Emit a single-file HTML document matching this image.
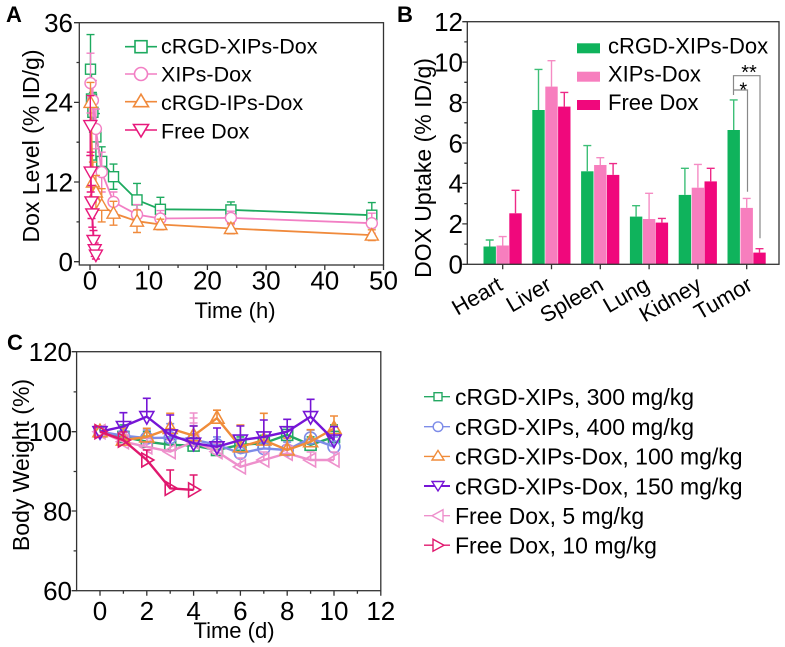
<!DOCTYPE html>
<html>
<head>
<meta charset="utf-8">
<style>
html,body{margin:0;padding:0;background:#fff;}
svg{display:block;}
text{font-family:"Liberation Sans",Arial,sans-serif;fill:#000;}
</style>
</head>
<body>
<svg width="785" height="647" viewBox="0 0 785 647" xmlns="http://www.w3.org/2000/svg">
<rect width="785" height="647" fill="#fff"/>

<!-- ================= PANEL A ================= -->
<text x="6" y="22" font-size="22" font-weight="bold">A</text>
<rect x="79.3" y="22.7" width="304.2" height="242.3" fill="none" stroke="#333" stroke-width="1.3"/>
<path d="M79.3 261.7H74M79.3 182H74M79.3 102.4H74M79.3 22.7H74M79.3 221.9H76.5M79.3 142.2H76.5M79.3 62.5H76.5" stroke="#333" stroke-width="1.3"/>
<path d="M90 265V270M148.7 265V270M207.4 265V270M266.1 265V270M324.8 265V270M383.5 265V270M119.35 265V268M178.05 265V268M236.75 265V268M295.45 265V268M354.15 265V268" stroke="#333" stroke-width="1.3"/>
<g font-size="26" text-anchor="end">
<text x="73" y="271">0</text>
<text x="73" y="191.3">12</text>
<text x="73" y="111.7">24</text>
<text x="73" y="32">36</text>
</g>
<g font-size="26" text-anchor="middle">
<text x="90" y="289.5">0</text>
<text x="148.7" y="289.5">10</text>
<text x="207.4" y="289.5">20</text>
<text x="266.1" y="289.5">30</text>
<text x="324.8" y="289.5">40</text>
<text x="383.5" y="289.5">50</text>
</g>
<text x="235" y="318" font-size="22" text-anchor="middle">Time (h)</text>
<text transform="translate(39,146) rotate(-90)" font-size="23" text-anchor="middle">Dox Level (% ID/g)</text>

<!-- green series A -->
<g stroke="#1daa5f" stroke-width="1.4" fill="none">
<path d="M90.5 34.6V103.7M86.5 34.6h8M86.5 103.7h8M91.5 72.5V125.6M87.5 72.5h8M87.5 125.6h8M92.9 92.4V132.2M88.9 92.4h8M88.9 132.2h8M95.9 113.6V160.1M91.9 113.6h8M91.9 160.1h8M101.7 146.8V176.1M97.7 146.8h8M97.7 176.1h8M113.5 164.1V189.3M109.5 164.1h8M109.5 189.3h8M137 183.4V216.6M133 183.4h8M133 216.6h8M160.4 197.3V221.2M156.4 197.3h8M156.4 221.2h8M230.9 201.9V217.9M226.9 201.9h8M226.9 217.9h8M371.8 202.6V227.8M367.8 202.6h8M367.8 227.8h8"/>
<polyline stroke-width="1.8" points="90.5,69.2 91.5,99 92.9,112.3 95.9,136.9 101.7,161.4 113.5,176.7 137,199.9 160.4,209.3 230.9,209.9 371.8,215.2"/>
<g fill="#fff">
<rect x="85.5" y="64.2" width="10" height="10"/><rect x="86.5" y="94" width="10" height="10"/><rect x="87.9" y="107.3" width="10" height="10"/><rect x="90.9" y="131.9" width="10" height="10"/><rect x="96.7" y="156.4" width="10" height="10"/><rect x="108.5" y="171.7" width="10" height="10"/><rect x="132" y="194.9" width="10" height="10"/><rect x="155.4" y="204.3" width="10" height="10"/><rect x="225.9" y="204.9" width="10" height="10"/><rect x="366.8" y="210.2" width="10" height="10"/>
</g>
</g>

<!-- pink series A -->
<g stroke="#f27fc4" stroke-width="1.4" fill="none">
<path d="M90.5 53.2V113M86.5 53.2h8M86.5 113h8M92.9 80.5V120.3M88.9 80.5h8M88.9 120.3h8M95.9 109V148.8M91.9 109h8M91.9 148.8h8M101.7 152.2V192M97.7 152.2h8M97.7 192h8M113.5 192V211.9M109.5 192h8M109.5 211.9h8M137 204.6V224.5M133 204.6h8M133 224.5h8M160.4 210.6V226.5M156.4 210.6h8M156.4 226.5h8M230.9 211.2V224.5M226.9 211.2h8M226.9 224.5h8M371.8 213.2V233.2M367.8 213.2h8M367.8 233.2h8"/>
<polyline stroke-width="1.8" points="90.5,83.1 92.9,100.4 95.9,128.9 101.7,172.1 113.5,201.9 137,214.6 160.4,218.5 230.9,217.9 371.8,223.2"/>
<g fill="#fff">
<circle cx="90.5" cy="83.1" r="5.5"/><circle cx="92.9" cy="100.4" r="5.5"/><circle cx="95.9" cy="128.9" r="5.5"/><circle cx="101.7" cy="172.1" r="5.5"/><circle cx="113.5" cy="201.9" r="5.5"/><circle cx="137" cy="214.6" r="5.5"/><circle cx="160.4" cy="218.5" r="5.5"/><circle cx="230.9" cy="217.9" r="5.5"/><circle cx="371.8" cy="223.2" r="5.5"/>
</g>
</g>

<!-- orange series A -->
<g stroke="#f08a3c" stroke-width="1.4" fill="none">
<path d="M90.5 82.4V122.3M86.5 82.4h8M86.5 122.3h8M92.9 162.1V201.9M88.9 162.1h8M88.9 201.9h8M95.9 175.4V208.6M91.9 175.4h8M91.9 208.6h8M101.7 188.7V221.9M97.7 188.7h8M97.7 221.9h8M113.5 201.3V225.2M109.5 201.3h8M109.5 225.2h8M137 209.9V232.5M133 209.9h8M133 232.5h8M160.4 219.2V229.8M156.4 219.2h8M156.4 229.8h8M230.9 223.2V233.8M226.9 223.2h8M226.9 233.8h8M371.8 229.8V240.5M367.8 229.8h8M367.8 240.5h8"/>
<polyline stroke-width="1.8" points="90.5,102.4 92.9,182 95.9,192 101.7,205.3 113.5,213.2 137,221.2 160.4,224.5 230.9,228.5 371.8,235.1"/>
<g fill="#fff">
<polygon points="90.5,95.9 84,107.4 97,107.4"/><polygon points="92.9,175.5 86.4,187 99.4,187"/><polygon points="95.9,185.5 89.4,197 102.4,197"/><polygon points="101.7,198.8 95.2,210.3 108.2,210.3"/><polygon points="113.5,206.7 107,218.2 120,218.2"/><polygon points="137,214.7 130.5,226.2 143.5,226.2"/><polygon points="160.4,218 153.9,229.5 166.9,229.5"/><polygon points="230.9,222 224.4,233.5 237.4,233.5"/><polygon points="371.8,228.6 365.3,240.1 378.3,240.1"/>
</g>
</g>

<!-- free dox A -->
<g stroke="#e8187c" stroke-width="1.4" fill="none">
<path d="M90.3 95.7V155.5M86.3 95.7h8M86.3 155.5h8M90.7 152.2V192M86.7 152.2h8M86.7 192h8M91.5 185.4V218.5M87.5 185.4h8M87.5 218.5h8M92.3 200.6V227.2M88.3 200.6h8M88.3 227.2h8M93.5 230.5V250.4M89.5 230.5h8M89.5 250.4h8M94.7 243.1V256.4M90.7 243.1h8M90.7 256.4h8M95.9 251.1V259M91.9 251.1h8M91.9 259h8"/>
<polyline stroke-width="1.8" points="90.3,125.6 90.7,172.1 91.5,201.9 92.3,213.9 93.5,240.5 94.7,249.7 95.9,255.1"/>
<g fill="#fff">
<polygon points="83.8,120.6 96.8,120.6 90.3,132.1"/><polygon points="84.2,167.1 97.2,167.1 90.7,178.6"/><polygon points="85,196.9 98,196.9 91.5,208.4"/><polygon points="85.8,208.9 98.8,208.9 92.3,220.4"/><polygon points="87,235.5 100,235.5 93.5,247"/><polygon points="88.2,244.7 101.2,244.7 94.7,256.2"/><polygon points="89.4,250.1 102.4,250.1 95.9,261.6"/>
</g>
</g>

<!-- legend A -->
<g stroke-width="1.6" fill="#fff">
<path d="M125 46.7H157" stroke="#1daa5f"/><rect x="135" y="40.7" width="12" height="12" stroke="#1daa5f"/>
<path d="M125 74H157" stroke="#f27fc4"/><circle cx="141" cy="74" r="6.5" stroke="#f27fc4"/>
<path d="M125 101.7H157" stroke="#f08a3c"/><polygon points="141,94.2 133.5,106.7 148.5,106.7" stroke="#f08a3c"/>
<path d="M125 130H157" stroke="#e8187c"/><polygon points="133.5,124.5 148.5,124.5 141,137" stroke="#e8187c"/>
</g>
<g font-size="21.5">
<text x="161" y="53.3">cRGD-XIPs-Dox</text>
<text x="161" y="81.7">XIPs-Dox</text>
<text x="161" y="110">cRGD-IPs-Dox</text>
<text x="161" y="138.3">Free Dox</text>
</g>

<!-- ================= PANEL B ================= -->
<text x="397" y="22" font-size="22" font-weight="bold">B</text>
<g fill="#0fb35c">
<rect x="483.5" y="246.5" width="12.4" height="17.8"/><rect x="532.3" y="110" width="12.4" height="154.3"/><rect x="581.1" y="171.3" width="12.4" height="93"/><rect x="629.9" y="216.6" width="12.4" height="47.7"/><rect x="678.7" y="194.9" width="12.4" height="69.4"/><rect x="727.5" y="130" width="12.4" height="134.3"/>
</g>
<g fill="#f77ebe">
<rect x="496.5" y="245.5" width="12.4" height="18.8"/><rect x="545.3" y="86.6" width="12.4" height="177.7"/><rect x="594.1" y="165" width="12.4" height="99.3"/><rect x="642.9" y="219" width="12.4" height="45.3"/><rect x="691.7" y="187.7" width="12.4" height="76.6"/><rect x="740.5" y="207.9" width="12.4" height="56.4"/>
</g>
<g fill="#f0087c">
<rect x="509.3" y="213.3" width="12.4" height="51"/><rect x="558.1" y="106.6" width="12.4" height="157.7"/><rect x="606.9" y="174.9" width="12.4" height="89.4"/><rect x="655.7" y="222.6" width="12.4" height="41.7"/><rect x="704.5" y="181.4" width="12.4" height="82.9"/><rect x="753.3" y="252.6" width="12.4" height="11.7"/>
</g>
<path d="M489.7 246.5V240M485.7 240h8M538.5 110V69.4M534.5 69.4h8M587.3 171.3V145.6M583.3 145.6h8M636.1 216.6V205.7M632.1 205.7h8M684.9 194.9V168.3M680.9 168.3h8M733.7 130V99.9M729.7 99.9h8" stroke="#3dbf77" stroke-width="1.4" fill="none"/>
<path d="M502.7 245.5V236.6M498.7 236.6h8M551.5 86.6V60.7M547.5 60.7h8M600.3 165V157.7M596.3 157.7h8M649.1 219V193.3M645.1 193.3h8M697.9 187.7V164.4M693.9 164.4h8M746.7 207.9V198.4M742.7 198.4h8" stroke="#f58cc4" stroke-width="1.4" fill="none"/>
<path d="M515.5 213.3V190.3M511.5 190.3h8M564.3 106.6V92.4M560.3 92.4h8M613.1 174.9V163.6M609.1 163.6h8M661.9 222.6V218.4M657.9 218.4h8M710.7 181.4V168.3M706.7 168.3h8M759.5 252.6V248.7M755.5 248.7h8" stroke="#ee2a88" stroke-width="1.4" fill="none"/>
<path d="M733.5 95V75.7H760V238.3M733.5 90H747.5V191.7" stroke="#888" stroke-width="1.2" fill="none"/>
<text x="749" y="79" font-size="20" text-anchor="middle">**</text>
<text x="743.3" y="96.5" font-size="20" text-anchor="middle">*</text>
<rect x="467.3" y="21.7" width="311.7" height="242.6" fill="none" stroke="#333" stroke-width="1.3"/>
<path d="M467.3 264.3H462.3M467.3 223.9H462.3M467.3 183.4H462.3M467.3 143H462.3M467.3 102.5H462.3M467.3 62.1H462.3M467.3 21.7H462.3M467.3 244.1H464.3M467.3 203.6H464.3M467.3 163.2H464.3M467.3 122.8H464.3M467.3 82.3H464.3M467.3 41.9H464.3" stroke="#333" stroke-width="1.3"/>
<path d="M502.7 264.3V269.3M551.5 264.3V269.3M600.3 264.3V269.3M649.1 264.3V269.3M697.9 264.3V269.3M746.7 264.3V269.3" stroke="#333" stroke-width="1.3"/>
<g font-size="26" text-anchor="end">
<text x="463" y="273.6">0</text>
<text x="463" y="233.2">2</text>
<text x="463" y="192.7">4</text>
<text x="463" y="152.3">6</text>
<text x="463" y="111.8">8</text>
<text x="463" y="71.4">10</text>
<text x="463" y="31">12</text>
</g>
<g font-size="22" text-anchor="end">
<text transform="translate(504,289) rotate(-30)">Heart</text>
<text transform="translate(553,289) rotate(-30)">Liver</text>
<text transform="translate(605,289) rotate(-30)">Spleen</text>
<text transform="translate(651,289) rotate(-30)">Lung</text>
<text transform="translate(703,289) rotate(-30)">Kidney</text>
<text transform="translate(754,289) rotate(-30)">Tumor</text>
</g>
<text transform="translate(431,168) rotate(-90)" font-size="23" text-anchor="middle">DOX Uptake (% ID/g)</text>
<rect x="577" y="43.3" width="23" height="10" fill="#0fb35c"/>
<rect x="577" y="71.7" width="23" height="10" fill="#f77ebe"/>
<rect x="577" y="100" width="23" height="10" fill="#f0087c"/>
<g font-size="22">
<text x="608" y="53.4">cRGD-XIPs-Dox</text>
<text x="608" y="81.7">XIPs-Dox</text>
<text x="608" y="110">Free Dox</text>
</g>

<!-- ================= PANEL C ================= -->
<text x="7" y="350" font-size="22" font-weight="bold">C</text>
<rect x="76.6" y="351.7" width="304.2" height="239" fill="none" stroke="#333" stroke-width="1.3"/>
<path d="M76.6 590.7H71.6M76.6 511H71.6M76.6 431.7H71.6M76.6 351.7H71.6M76.6 550.9H73.6M76.6 471.5H73.6M76.6 391.9H73.6" stroke="#333" stroke-width="1.3"/>
<path d="M100 590.7V595.7M146.8 590.7V595.7M193.6 590.7V595.7M240.4 590.7V595.7M287.2 590.7V595.7M334 590.7V595.7M380.8 590.7V595.7M123.4 590.7V593.7M170.2 590.7V593.7M217 590.7V593.7M263.8 590.7V593.7M310.6 590.7V593.7M357.4 590.7V593.7" stroke="#333" stroke-width="1.3"/>
<g font-size="26" text-anchor="end">
<text x="72" y="600">60</text>
<text x="72" y="520.3">80</text>
<text x="72" y="441">100</text>
<text x="72" y="361">120</text>
</g>
<g font-size="26" text-anchor="middle">
<text x="100" y="620">0</text>
<text x="146.8" y="620">2</text>
<text x="193.6" y="620">4</text>
<text x="240.4" y="620">6</text>
<text x="287.2" y="620">8</text>
<text x="334" y="620">10</text>
<text x="380.8" y="620">12</text>
</g>
<text x="234" y="638" font-size="22" text-anchor="middle">Time (d)</text>
<text transform="translate(29,465) rotate(-90)" font-size="23" text-anchor="middle">Body Weight (%)</text>

<!-- green C -->
<g stroke="#25a863" fill="none">
<path stroke-width="1.6" d="M100 431.7V427.7M96 427.7h8M123.4 436.9V424.9M119.4 424.9h8M146.8 441.7V431.7M142.8 431.7h8M170.2 444.8V436.9M166.2 436.9h8M193.6 445.6V437.7M189.6 437.7h8M217 450V442.1M213 442.1h8M240.4 444.8V436.9M236.4 436.9h8M263.8 443.2V435.3M259.8 435.3h8M287.2 434.9V426.9M283.2 426.9h8M310.6 444.8V436.9M306.6 436.9h8M334 436.9V424.9M330 424.9h8"/>
<polyline stroke-width="2.4" points="100,431.7 123.4,436.9 146.8,441.7 170.2,444.8 193.6,445.6 217,450 240.4,444.8 263.8,443.2 287.2,434.9 310.6,444.8 334,436.9"/>
<g stroke-width="1.6">
<rect x="94.5" y="426.2" width="11" height="11"/><rect x="117.9" y="431.4" width="11" height="11"/><rect x="141.3" y="436.2" width="11" height="11"/><rect x="164.7" y="439.3" width="11" height="11"/><rect x="188.1" y="440.1" width="11" height="11"/><rect x="211.5" y="444.5" width="11" height="11"/><rect x="234.9" y="439.3" width="11" height="11"/><rect x="258.3" y="437.7" width="11" height="11"/><rect x="281.7" y="429.4" width="11" height="11"/><rect x="305.1" y="439.3" width="11" height="11"/><rect x="328.5" y="431.4" width="11" height="11"/>
</g>
</g>

<!-- blue C -->
<g stroke="#7d8ce8" fill="none">
<path stroke-width="1.6" d="M123.4 435.7V427.7M119.4 427.7h8M146.8 438.1V430.1M142.8 430.1h8M170.2 437.7V423.7M166.2 423.7h8M193.6 439.7V425.7M189.6 425.7h8M217 444.8V436.9M213 436.9h8M240.4 453.2V445.2M236.4 445.2h8M263.8 448.4V440.5M259.8 440.5h8M287.2 450V442.1M283.2 442.1h8M310.6 438.1V430.1M306.6 430.1h8M334 446.8V436.9M330 436.9h8"/>
<polyline stroke-width="2.4" points="100,431.7 123.4,435.7 146.8,438.1 170.2,437.7 193.6,439.7 217,444.8 240.4,453.2 263.8,448.4 287.2,450 310.6,438.1 334,446.8"/>
<g stroke-width="1.6">
<circle cx="100" cy="431.7" r="6"/><circle cx="123.4" cy="435.7" r="6"/><circle cx="146.8" cy="438.1" r="6"/><circle cx="170.2" cy="437.7" r="6"/><circle cx="193.6" cy="439.7" r="6"/><circle cx="217" cy="444.8" r="6"/><circle cx="240.4" cy="453.2" r="6"/><circle cx="263.8" cy="448.4" r="6"/><circle cx="287.2" cy="450" r="6"/><circle cx="310.6" cy="438.1" r="6"/><circle cx="334" cy="446.8" r="6"/>
</g>
</g>

<!-- light pink C -->
<g stroke="#ee90cc" fill="none">
<path stroke-width="1.6" d="M123.4 441.7V434M119.4 434h8M146.8 446.8V438M142.8 438h8M170.2 451.6V440M166.2 440h8M193.6 441.7V413M189.6 413h8M189.6 418h8M189.6 423h8M217 451.6V443M213 443h8M240.4 466.8V458M236.4 458h8M263.8 460V452M259.8 452h8M287.2 453.2V445M283.2 445h8M310.6 460V452M306.6 452h8M334 460V452M330 452h8"/>
<polyline stroke-width="2.4" points="100,431.7 123.4,441.7 146.8,446.8 170.2,451.6 193.6,441.7 217,451.6 240.4,466.8 263.8,460 287.2,453.2 310.6,460 334,460"/>
<g stroke-width="1.6">
<polygon points="93,431.7 105,424.7 105,438.7"/><polygon points="116.4,441.7 128.4,434.7 128.4,448.7"/><polygon points="139.8,446.8 151.8,439.8 151.8,453.8"/><polygon points="163.2,451.6 175.2,444.6 175.2,458.6"/><polygon points="186.6,441.7 198.6,434.7 198.6,448.7"/><polygon points="210,451.6 222,444.6 222,458.6"/><polygon points="233.4,466.8 245.4,459.8 245.4,473.8"/><polygon points="256.8,460 268.8,453 268.8,467"/><polygon points="280.2,453.2 292.2,446.2 292.2,460.2"/><polygon points="303.6,460 315.6,453 315.6,467"/><polygon points="327,460 339,453 339,467"/>
</g>
</g>

<!-- orange C -->
<g stroke="#f08c3a" fill="none">
<path stroke-width="1.6" d="M123.4 440.1V428.1M119.4 428.1h8M146.8 436.9V428.3M142.8 428.3h8M170.2 428.5V413.3M166.2 413.3h8M193.6 435.7V426M189.6 426h8M217 418.2V410.2M213 410.2h8M240.4 446.8V425M236.4 425h8M263.8 440.1V413.3M259.8 413.3h8M287.2 450V438.1M283.2 438.1h8M310.6 441.7V429.7M306.6 429.7h8M334 428.5V416M330 416h8"/>
<polyline stroke-width="2.4" points="100,431.7 123.4,440.1 146.8,436.9 170.2,428.5 193.6,435.7 217,418.2 240.4,446.8 263.8,440.1 287.2,450 310.6,441.7 334,428.5"/>
<g stroke-width="1.6">
<polygon points="100,424.2 93,436.7 107,436.7"/><polygon points="123.4,432.6 116.4,445.1 130.4,445.1"/><polygon points="146.8,429.4 139.8,441.9 153.8,441.9"/><polygon points="170.2,421 163.2,433.5 177.2,433.5"/><polygon points="193.6,428.2 186.6,440.7 200.6,440.7"/><polygon points="217,410.7 210,423.2 224,423.2"/><polygon points="240.4,439.3 233.4,451.8 247.4,451.8"/><polygon points="263.8,432.6 256.8,445.1 270.8,445.1"/><polygon points="287.2,442.5 280.2,455 294.2,455"/><polygon points="310.6,434.2 303.6,446.7 317.6,446.7"/><polygon points="334,421 327,433.5 341,433.5"/>
</g>
</g>

<!-- purple C -->
<g stroke="#7615d6" fill="none">
<path stroke-width="1.6" d="M123.4 426.5V412.7M119.4 412.7h8M146.8 416.6V398.3M142.8 398.3h8M170.2 434.9V415M166.2 415h8M193.6 443.2V426M189.6 426h8M217 446.8V428M213 428h8M240.4 440.1V426M236.4 426h8M263.8 436.9V420M259.8 420h8M287.2 431.7V419.3M283.2 419.3h8M310.6 416.6V399.3M306.6 399.3h8M334 440.1V426.7M330 426.7h8"/>
<polyline stroke-width="2.4" points="100,431.7 123.4,426.5 146.8,416.6 170.2,434.9 193.6,443.2 217,446.8 240.4,440.1 263.8,436.9 287.2,431.7 310.6,416.6 334,440.1"/>
<g stroke-width="1.6">
<polygon points="93,426.7 107,426.7 100,439.2"/><polygon points="116.4,421.5 130.4,421.5 123.4,434"/><polygon points="139.8,411.6 153.8,411.6 146.8,424.1"/><polygon points="163.2,429.9 177.2,429.9 170.2,442.4"/><polygon points="186.6,438.2 200.6,438.2 193.6,450.7"/><polygon points="210,441.8 224,441.8 217,454.3"/><polygon points="233.4,435.1 247.4,435.1 240.4,447.6"/><polygon points="256.8,431.9 270.8,431.9 263.8,444.4"/><polygon points="280.2,426.7 294.2,426.7 287.2,439.2"/><polygon points="303.6,411.6 317.6,411.6 310.6,424.1"/><polygon points="327,435.1 341,435.1 334,447.6"/>
</g>
</g>

<!-- red C -->
<g stroke="#e0186e" fill="none">
<path stroke-width="1.6" d="M123.4 440.1V432M119.4 432h8M146.8 460V450M142.8 450h8M170.2 488.3V470M166.2 470h8M193.6 489.9V475M189.6 475h8"/>
<polyline stroke-width="2.4" points="100,431.7 123.4,440.1 146.8,460 170.2,488.3 193.6,489.9"/>
<g stroke-width="1.6">
<polygon points="107,431.7 95,424.7 95,438.7"/><polygon points="130.4,440.1 118.4,433.1 118.4,447.1"/><polygon points="153.8,460 141.8,453 141.8,467"/><polygon points="177.2,488.3 165.2,481.3 165.2,495.3"/><polygon points="200.6,489.9 188.6,482.9 188.6,496.9"/>
</g>
</g>

<!-- legend C -->
<g fill="none" stroke-width="1.4">
<path d="M424 396.7H450" stroke="#25a863"/><rect x="434" y="392.7" width="8" height="8" fill="#fff" stroke="#25a863"/>
<path d="M424 426.7H450" stroke="#7d8ce8"/><circle cx="438" cy="426.7" r="4.8" fill="#fff" stroke="#7d8ce8"/>
<path d="M424 456.4H450" stroke="#f08c3a"/><polygon points="438,450.4 432,460 444,460" fill="#fff" stroke="#f08c3a"/>
<path d="M424 486H450" stroke="#7615d6" stroke-width="2"/><polygon points="432,481.5 444,481.5 438,491" fill="#fff" stroke="#7615d6"/>
<path d="M424 515.7H450" stroke="#ee90cc"/><polygon points="432,515.7 443,509.7 443,521.7" fill="#fff" stroke="#ee90cc"/>
<path d="M424 545.2H450" stroke="#e0186e"/><polygon points="444,545.2 433,539.2 433,551.2" fill="#fff" stroke="#e0186e"/>
</g>
<g font-size="23">
<text x="455" y="405">cRGD-XIPs, 300 mg/kg</text>
<text x="455" y="435">cRGD-XIPs, 400 mg/kg</text>
<text x="455" y="464.7">cRGD-XIPs-Dox, 100 mg/kg</text>
<text x="455" y="494.3">cRGD-XIPs-Dox, 150 mg/kg</text>
<text x="455" y="524">Free Dox, 5 mg/kg</text>
<text x="455" y="553.5">Free Dox, 10 mg/kg</text>
</g>
</svg>
</body>
</html>
